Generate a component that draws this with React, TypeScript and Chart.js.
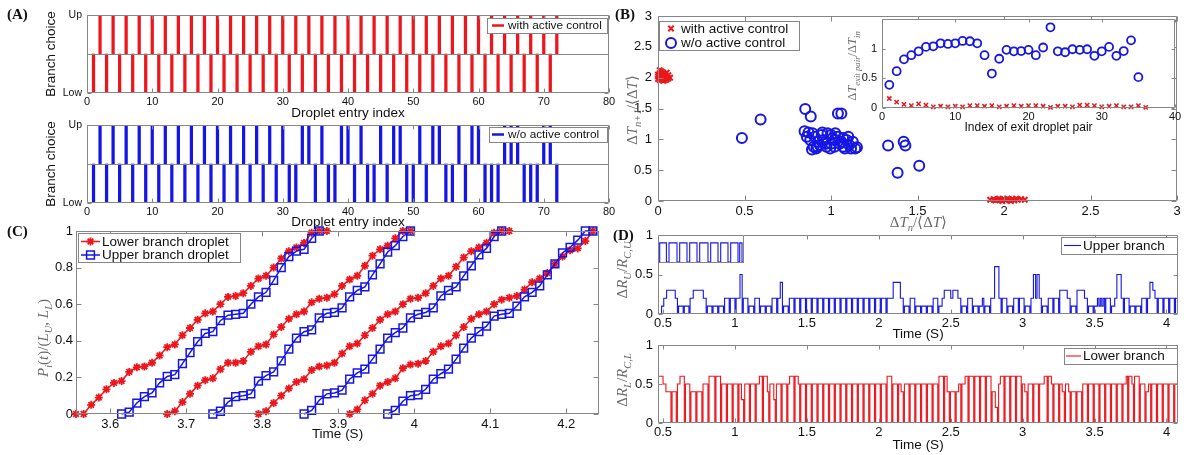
import React, { useEffect, useRef } from 'react';
import { Chart, registerables } from 'chart.js';

Chart.register(...registerables);

const W = 1184;
const H = 455;
const RED = 'rgb(236,22,28)';
const BLUE = 'rgb(22,22,228)';
const FRAME = '#868686';
const TEXT = '#111111';
const MATH = '#6a6a6a';
const SANS = '"Liberation Sans", Arial, Helvetica, sans-serif';
const SERIF = '"Liberation Serif", "Times New Roman", serif';

// ---------------- Panel A data ----------------
const A_X_TICKS = [0, 10, 20, 30, 40, 50, 60, 70, 80];
const A_X_LABELS = ['0', '10', '20', '30', '40', '50', '60', '70', '80'];
const BRANCH_TICKS = [0, 1];
const BRANCH_LABELS = ['Low', 'Up'];
const BRANCH_LOW = 0;
const BRANCH_MID = 0.5;
const BRANCH_UP = 1;
const ACTIVE_UP = [2, 4, 6, 8, 10, 12, 14, 16, 18, 20, 22, 24, 26, 28, 30, 32, 34, 36, 38, 40, 42, 44, 46, 48, 50, 52, 54, 56, 58, 60, 62, 64, 66, 68, 70, 72];
const ACTIVE_LOW = [1, 3, 5, 7, 9, 11, 13, 15, 17, 19, 21, 23, 25, 27, 29, 31, 33, 35, 37, 39, 41, 43, 45, 47, 49, 51, 53, 55, 57, 59, 61, 63, 65, 67, 69, 71];
const PASSIVE_UP = [2, 4, 6, 8, 10, 12, 14, 16, 18, 20, 22, 24, 26, 28, 30, 33, 34, 36, 39, 40, 42, 45, 47, 48, 51, 53, 54, 57, 59, 60, 64, 65, 66, 70, 71];
const PASSIVE_LOW = [1, 3, 5, 7, 9, 11, 13, 15, 17, 19, 21, 23, 25, 27, 29, 31, 32, 35, 37, 38, 41, 43, 44, 46, 49, 50, 52, 55, 56, 58, 61, 62, 63, 67, 68, 69, 72];

// ---------------- Panel B data ----------------
const B_TICKS = [0, 0.5, 1, 1.5, 2, 2.5, 3];
const B_LABELS = ['0', '0.5', '1', '1.5', '2', '2.5', '3'];
const B_ACTIVE_X = [0.01, 0.02, 0.03, 0.0, 0.02, 0.04, 0.01, 0.03, 0.05, 0.02, 0.04, 0.0, 0.06, 0.03, 0.05, 0.01, 0.02, 0.04, 0.03, 0.06, 0.0, 0.05, 0.02, 0.07, 0.01,
  1.92, 1.94, 1.95, 1.97, 1.98, 2.0, 2.01, 2.02, 2.03, 2.05, 2.06, 2.08, 2.1, 2.12, 1.99, 2.04, 1.96, 2.07];
const B_ACTIVE_Y = [2.12, 2.1, 2.08, 2.05, 2.03, 2.02, 2.0, 1.99, 2.0, 1.97, 1.96, 1.98, 2.04, 2.06, 1.97, 2.07, 1.99, 2.05, 1.95, 1.99, 2.02, 2.08, 2.01, 2.0, 1.96,
  0.02, 0.03, 0.01, 0.04, 0.02, 0.03, 0.01, 0.04, 0.02, 0.03, 0.01, 0.02, 0.03, 0.02, 0.0, 0.0, 0.02, 0.04];
const B_PASSIVE_X = [0.485, 0.593, 0.851, 0.883, 1.04, 1.06, 1.33, 1.42, 1.43, 1.385, 1.51,
  0.847, 0.87, 0.893, 0.86, 0.88, 0.9, 0.89, 0.915, 0.946, 0.957, 0.974, 1.0, 1.01, 1.02, 1.04, 1.06, 1.07, 1.09, 1.105, 1.116, 1.126, 1.14, 1.15,
  0.95, 0.98, 1.0, 1.025, 1.05, 1.08, 0.925, 0.935, 0.995, 1.02, 0.906, 0.923, 0.97, 1.1, 1.07];
const B_PASSIVE_Y = [1.02, 1.32, 1.49, 1.37, 1.42, 1.42, 0.9, 0.96, 0.9, 0.46, 0.57,
  1.13, 1.11, 1.1, 1.04, 0.99, 0.88, 0.835, 0.85, 1.07, 0.99, 0.88, 0.93, 1.02, 0.99, 1.04, 0.96, 1.02, 0.99, 0.91, 0.85, 0.96, 0.85, 0.87,
  1.11, 1.1, 1.07, 1.1, 0.93, 0.85, 0.96, 0.91, 0.85, 0.88, 1.04, 0.88, 0.93, 1.04, 0.88];

// Inset of panel B
const INSET_X_TICKS = [0, 10, 20, 30, 40];
const INSET_X_LABELS = ['0', '10', '20', '30', '40'];
const INSET_Y_TICKS = [0, 0.5, 1];
const INSET_Y_LABELS = ['0', '0.5', '1'];
const INSET_PASSIVE = [0.39, 0.62, 0.82, 0.89, 0.955, 1.03, 1.04, 1.09, 1.08, 1.09, 1.13, 1.125, 1.09, 0.89, 0.58, 0.83, 0.98, 0.955, 0.96, 0.98, 0.89, 1.02, 1.36, 0.955, 0.94, 0.99, 0.98, 0.99, 0.88, 0.955, 1.03, 0.88, 0.96, 1.14, 0.52];
const INSET_ACTIVE = [0.16, 0.1, 0.06, 0.04, 0.07, 0.05, 0.02, 0.03, 0.02, 0.03, 0.02, 0.04, 0.04, 0.03, 0.04, 0.02, 0.03, 0.04, 0.03, 0.04, 0.04, 0.03, 0.01, 0.03, 0.03, 0.02, 0.05, 0.05, 0.04, 0.02, 0.03, 0.04, 0.02, 0.02, 0.04, 0.01];

// ---------------- Panel C data ----------------
const C_X_TICKS = [3.6, 3.7, 3.8, 3.9, 4, 4.1, 4.2];
const C_X_LABELS = ['3.6', '3.7', '3.8', '3.9', '4', '4.1', '4.2'];
const C_Y_TICKS = [0, 0.2, 0.4, 0.6, 0.8, 1];
const C_Y_LABELS = ['0', '0.2', '0.4', '0.6', '0.8', '1'];
const LOWER1_T = [3.555, 3.565, 3.575, 3.585, 3.595, 3.605, 3.615, 3.625, 3.635, 3.645, 3.655, 3.665, 3.675, 3.685, 3.695, 3.705, 3.715, 3.725, 3.735, 3.745, 3.755, 3.765, 3.775, 3.785, 3.795, 3.805, 3.815, 3.825, 3.835, 3.845, 3.855, 3.865, 3.875, 3.885];
const LOWER1_P = [0, 0, 0.05, 0.09, 0.135, 0.17, 0.18, 0.23, 0.255, 0.26, 0.28, 0.32, 0.365, 0.38, 0.43, 0.47, 0.515, 0.55, 0.56, 0.6, 0.64, 0.645, 0.66, 0.7, 0.74, 0.755, 0.8, 0.85, 0.89, 0.91, 0.935, 0.99, 1, 1];
const UPPER1_T = [3.615, 3.625, 3.635, 3.645, 3.655, 3.665, 3.675, 3.685, 3.695, 3.705, 3.715, 3.725, 3.735, 3.745, 3.755, 3.765, 3.775, 3.785, 3.795, 3.805, 3.815, 3.825, 3.835, 3.845, 3.855, 3.865, 3.875];
const UPPER1_P = [0, 0.01, 0.06, 0.095, 0.115, 0.17, 0.205, 0.215, 0.275, 0.335, 0.395, 0.44, 0.45, 0.51, 0.54, 0.545, 0.55, 0.6, 0.64, 0.665, 0.73, 0.8, 0.86, 0.89, 0.9, 0.96, 1];
const LOWER2_T = [3.675, 3.685, 3.695, 3.705, 3.715, 3.725, 3.735, 3.745, 3.755, 3.765, 3.775, 3.785, 3.795, 3.805, 3.815, 3.825, 3.835, 3.845, 3.855, 3.865, 3.875, 3.885, 3.895, 3.905, 3.915, 3.925, 3.935, 3.945, 3.955, 3.965, 3.975, 3.985, 3.995];
const LOWER2_P = [0, 0.015, 0.065, 0.11, 0.155, 0.185, 0.195, 0.245, 0.28, 0.28, 0.29, 0.34, 0.37, 0.38, 0.435, 0.475, 0.52, 0.545, 0.56, 0.61, 0.63, 0.635, 0.655, 0.7, 0.735, 0.755, 0.81, 0.865, 0.9, 0.92, 0.96, 1, 1];
const UPPER2_T = [3.735, 3.745, 3.755, 3.765, 3.775, 3.785, 3.795, 3.805, 3.815, 3.825, 3.835, 3.845, 3.855, 3.865, 3.875, 3.885, 3.895, 3.905, 3.915, 3.925, 3.935, 3.945, 3.955, 3.965, 3.975, 3.985, 3.995];
const UPPER2_P = [0, 0.015, 0.065, 0.095, 0.1, 0.11, 0.18, 0.21, 0.23, 0.29, 0.355, 0.415, 0.45, 0.46, 0.525, 0.55, 0.555, 0.58, 0.64, 0.675, 0.695, 0.76, 0.82, 0.885, 0.92, 0.97, 1];
const LOWER3_T = [3.795, 3.805, 3.815, 3.825, 3.835, 3.845, 3.855, 3.865, 3.875, 3.885, 3.895, 3.905, 3.915, 3.925, 3.935, 3.945, 3.955, 3.965, 3.975, 3.985, 3.995, 4.005, 4.015, 4.025, 4.035, 4.045, 4.055, 4.065, 4.075, 4.085, 4.095, 4.105, 4.115, 4.125];
const LOWER3_P = [0, 0.015, 0.06, 0.1, 0.14, 0.175, 0.19, 0.24, 0.26, 0.265, 0.28, 0.33, 0.37, 0.385, 0.43, 0.47, 0.515, 0.545, 0.56, 0.6, 0.63, 0.635, 0.66, 0.7, 0.74, 0.755, 0.805, 0.855, 0.89, 0.91, 0.935, 0.99, 1, 1];
const UPPER3_T = [3.855, 3.865, 3.875, 3.885, 3.895, 3.905, 3.915, 3.925, 3.935, 3.945, 3.955, 3.965, 3.975, 3.985, 3.995, 4.005, 4.015, 4.025, 4.035, 4.045, 4.055, 4.065, 4.075, 4.085, 4.095, 4.105, 4.115];
const UPPER3_P = [0, 0.02, 0.075, 0.11, 0.115, 0.13, 0.19, 0.225, 0.245, 0.3, 0.355, 0.415, 0.445, 0.47, 0.525, 0.545, 0.555, 0.58, 0.645, 0.675, 0.695, 0.755, 0.81, 0.87, 0.905, 0.97, 1];
const LOWER4_T = [3.915, 3.925, 3.935, 3.945, 3.955, 3.965, 3.975, 3.985, 3.995, 4.005, 4.015, 4.025, 4.035, 4.045, 4.055, 4.065, 4.075, 4.085, 4.095, 4.105, 4.115, 4.125, 4.135, 4.145, 4.155, 4.165, 4.175, 4.185, 4.195, 4.205, 4.215, 4.225, 4.235];
const LOWER4_P = [0, 0.025, 0.075, 0.11, 0.155, 0.175, 0.195, 0.25, 0.27, 0.275, 0.29, 0.34, 0.37, 0.385, 0.43, 0.475, 0.52, 0.545, 0.56, 0.6, 0.625, 0.635, 0.645, 0.68, 0.72, 0.74, 0.77, 0.82, 0.86, 0.895, 0.905, 0.945, 1];
const UPPER4_T = [3.965, 3.975, 3.985, 3.995, 4.005, 4.015, 4.025, 4.035, 4.045, 4.055, 4.065, 4.075, 4.085, 4.095, 4.105, 4.115, 4.125, 4.135, 4.145, 4.155, 4.165, 4.175, 4.185, 4.195, 4.205, 4.215, 4.225, 4.235];
const UPPER4_P = [0, 0.02, 0.07, 0.1, 0.105, 0.135, 0.19, 0.22, 0.245, 0.3, 0.36, 0.415, 0.45, 0.48, 0.535, 0.545, 0.55, 0.59, 0.64, 0.665, 0.7, 0.76, 0.82, 0.88, 0.91, 0.95, 1, 1];

// ---------------- Panel D data ----------------
const D_X_TICKS = [0.5, 1, 1.5, 2, 2.5, 3, 3.5, 4];
const D_X_LABELS = ['0.5', '1', '1.5', '2', '2.5', '3', '3.5', '4'];
const D_Y_TICKS = [0, 0.5, 1];
const D_Y_LABELS = ['0', '0.5', '1'];
const UPPER_STEPS = [
  [0.465, 0], [0.49, 0.1], [0.505, 0.2], [0.525, 0.3], [0.585, 0.2], [0.6, 0], [0.608, 0.1], [0.64, 0], [0.648, 0.1], [0.68, 0], [0.688, 0.2], [0.71, 0.3], [0.78, 0.2], [0.8, 0], [0.808, 0.1], [0.84, 0], [0.848, 0.1], [0.88, 0], [0.888, 0.1], [0.92, 0], [0.928, 0.2], [0.96, 0], [0.968, 0.2], [1.0, 0], [1.008, 0.2], [1.035, 0.5], [1.05, 0], [1.058, 0.2], [1.09, 0], [1.098, 0.1], [1.13, 0], [1.138, 0.2], [1.17, 0], [1.178, 0.1], [1.21, 0], [1.218, 0.1], [1.25, 0], [1.258, 0.2], [1.29, 0], [1.298, 0.2], [1.315, 0.4], [1.33, 0], [1.338, 0.1], [1.37, 0], [1.378, 0.2], [1.41, 0], [1.418, 0.2], [1.45, 0], [1.458, 0.2], [1.49, 0], [1.498, 0.2], [1.53, 0], [1.538, 0.2], [1.57, 0], [1.578, 0.2], [1.61, 0], [1.618, 0.2], [1.65, 0], [1.658, 0.2], [1.69, 0], [1.698, 0.2], [1.73, 0], [1.738, 0.2], [1.77, 0], [1.778, 0.2], [1.81, 0], [1.818, 0.2], [1.85, 0], [1.858, 0.2], [1.89, 0], [1.898, 0.2], [1.93, 0], [1.938, 0.2], [1.97, 0], [1.978, 0.2], [2.01, 0], [2.018, 0.2], [2.05, 0], [2.058, 0.2], [2.1, 0.4], [2.15, 0.2], [2.17, 0], [2.178, 0.1], [2.21, 0], [2.218, 0.2], [2.25, 0], [2.258, 0.1], [2.29, 0], [2.298, 0.1], [2.33, 0], [2.338, 0.1], [2.37, 0], [2.378, 0.2], [2.41, 0], [2.418, 0.1], [2.44, 0.2], [2.455, 0.3], [2.5, 0.2], [2.515, 0.3], [2.55, 0.2], [2.57, 0], [2.578, 0.1], [2.61, 0], [2.618, 0.2], [2.65, 0], [2.658, 0.1], [2.69, 0], [2.698, 0.1], [2.72, 0.2], [2.73, 0], [2.738, 0.1], [2.77, 0], [2.778, 0.2], [2.805, 0.6], [2.835, 0.2], [2.85, 0], [2.858, 0.2], [2.89, 0], [2.898, 0.1], [2.93, 0], [2.938, 0.2], [2.97, 0], [2.978, 0.2], [3.01, 0], [3.018, 0.1], [3.05, 0], [3.058, 0.2], [3.075, 0.5], [3.09, 0.2], [3.1, 0.5], [3.115, 0.2], [3.13, 0], [3.138, 0.1], [3.17, 0], [3.178, 0.2], [3.21, 0], [3.218, 0.2], [3.25, 0], [3.258, 0.3], [3.31, 0.2], [3.33, 0], [3.338, 0.1], [3.37, 0], [3.378, 0.3], [3.43, 0.2], [3.45, 0], [3.458, 0.1], [3.49, 0], [3.498, 0.1], [3.52, 0.2], [3.53, 0.1], [3.54, 0.2], [3.55, 0.1], [3.56, 0.2], [3.57, 0], [3.578, 0.2], [3.61, 0], [3.618, 0.1], [3.64, 0.2], [3.655, 0.5], [3.685, 0.2], [3.7, 0], [3.708, 0.2], [3.74, 0], [3.748, 0.1], [3.78, 0], [3.788, 0.1], [3.82, 0], [3.828, 0.2], [3.86, 0], [3.868, 0.2], [3.885, 0.4], [3.905, 0.3], [3.92, 0.2], [3.935, 0], [3.943, 0.2], [3.975, 0], [3.983, 0.2], [4.015, 0], [4.023, 0.2], [4.055, 0], [4.063, 0.2], [4.08, 0.2],
];
const LOWER_STEPS = [
  [0.465, 0.6], [0.5, 0.5], [0.52, 0.4], [0.555, 0], [0.563, 0.4], [0.592, 0], [0.6, 0.5], [0.618, 0.6], [0.648, 0], [0.656, 0.5], [0.686, 0], [0.694, 0.4], [0.728, 0], [0.736, 0.4], [0.77, 0], [0.778, 0.5], [0.812, 0], [0.82, 0.6], [0.86, 0], [0.868, 0.6], [0.9, 0], [0.908, 0.5], [0.94, 0], [0.948, 0.5], [0.98, 0], [0.988, 0.5], [1.02, 0], [1.028, 0.5], [1.045, 0.3], [1.06, 0], [1.068, 0.5], [1.1, 0], [1.108, 0.5], [1.14, 0], [1.148, 0.5], [1.17, 0.6], [1.19, 0], [1.198, 0.6], [1.225, 0.4], [1.235, 0], [1.243, 0.5], [1.27, 0.3], [1.28, 0], [1.288, 0.5], [1.32, 0], [1.328, 0.5], [1.36, 0], [1.368, 0.5], [1.38, 0.6], [1.41, 0], [1.418, 0.6], [1.44, 0.5], [1.45, 0], [1.458, 0.5], [1.49, 0], [1.498, 0.5], [1.53, 0], [1.538, 0.5], [1.57, 0], [1.578, 0.5], [1.61, 0], [1.618, 0.5], [1.65, 0], [1.658, 0.5], [1.69, 0], [1.698, 0.5], [1.73, 0], [1.738, 0.5], [1.77, 0], [1.778, 0.5], [1.81, 0], [1.818, 0.5], [1.85, 0], [1.858, 0.5], [1.89, 0], [1.898, 0.5], [1.93, 0], [1.938, 0.5], [1.97, 0], [1.978, 0.5], [2.01, 0], [2.018, 0.5], [2.05, 0], [2.058, 0.6], [2.09, 0], [2.098, 0.5], [2.13, 0], [2.138, 0.5], [2.155, 0.4], [2.17, 0], [2.178, 0.5], [2.21, 0], [2.218, 0.5], [2.25, 0], [2.258, 0.5], [2.29, 0], [2.298, 0.5], [2.33, 0], [2.338, 0.5], [2.37, 0], [2.378, 0.5], [2.41, 0], [2.418, 0.6], [2.45, 0], [2.458, 0.6], [2.475, 0.4], [2.49, 0], [2.498, 0.4], [2.53, 0], [2.538, 0.4], [2.555, 0.5], [2.57, 0], [2.578, 0.5], [2.6, 0.6], [2.62, 0], [2.628, 0.6], [2.66, 0], [2.668, 0.6], [2.7, 0], [2.708, 0.6], [2.74, 0], [2.748, 0.6], [2.78, 0], [2.788, 0.4], [2.81, 0.2], [2.825, 0], [2.833, 0.5], [2.845, 0.6], [2.87, 0], [2.878, 0.6], [2.91, 0], [2.918, 0.6], [2.95, 0], [2.958, 0.6], [2.99, 0], [2.998, 0.5], [3.015, 0.4], [3.03, 0], [3.038, 0.5], [3.07, 0], [3.078, 0.5], [3.11, 0], [3.118, 0.5], [3.15, 0.6], [3.17, 0], [3.178, 0.6], [3.2, 0.5], [3.21, 0], [3.218, 0.5], [3.25, 0], [3.258, 0.5], [3.275, 0.4], [3.29, 0], [3.298, 0.5], [3.32, 0.4], [3.33, 0], [3.338, 0.4], [3.37, 0], [3.378, 0.4], [3.41, 0], [3.418, 0.5], [3.45, 0], [3.458, 0.5], [3.49, 0], [3.498, 0.5], [3.53, 0], [3.538, 0.5], [3.57, 0], [3.578, 0.5], [3.61, 0], [3.618, 0.5], [3.65, 0], [3.658, 0.5], [3.69, 0], [3.698, 0.5], [3.72, 0.6], [3.73, 0], [3.738, 0.6], [3.76, 0.5], [3.77, 0], [3.778, 0.6], [3.81, 0], [3.818, 0.5], [3.85, 0], [3.858, 0.4], [3.875, 0.5], [3.89, 0], [3.898, 0.5], [3.93, 0], [3.938, 0.5], [3.97, 0], [3.978, 0.5], [4.01, 0], [4.018, 0.5], [4.05, 0], [4.058, 0.5], [4.08, 0.5],
];
// small zoom inset in panel D (its own units)
const DI_T = [0, 1.7, 8.4, 11, 19, 21.7, 29, 31.7, 39, 41.7, 50, 52.7, 60, 62.7, 70, 72.7, 80, 81.7, 84, 86];
const DI_V = [0.03, 0.72, 0.03, 0.72, 0.03, 0.72, 0.03, 0.72, 0.03, 0.72, 0.03, 0.72, 0.03, 0.72, 0.03, 0.72, 0.03, 0.72, 0.03, 0.03];

// ---------------- layout (page pixels) ----------------
type Rect = { l: number; t: number; r: number; b: number };
const PA1: Rect = { l: 87, t: 15, r: 609, b: 93 };
const PA2: Rect = { l: 87, t: 125, r: 609, b: 203 };
const PB: Rect = { l: 658, t: 16, r: 1179, b: 201 };
const PBI: Rect = { l: 882, t: 19, r: 1175, b: 108 };
const PC: Rect = { l: 76, t: 231, r: 599, b: 414 };
const PD1: Rect = { l: 658, t: 235, r: 1178, b: 314 };
const PDI: Rect = { l: 658, t: 235, r: 744, b: 263 };
const PD2: Rect = { l: 658, t: 345, r: 1178, b: 423 };

type Seg = { t: string; sub?: boolean; it?: boolean };
type TextSpec = { x: number; y: number; rot?: boolean; segs: Seg[]; size: number; family: string; color: string };
type Row = { y: number; label: string; color: string; tx: number; line?: number[]; lw?: number; marker?: string; mx?: number; mr?: number; mlw?: number };
type LegendSpec = { box: number[]; size: number; rows: Row[] };
type DecorSpec = { bg?: boolean; tick: number; hLines?: number[]; legend?: LegendSpec; texts?: TextSpec[] };

function drawRich(ctx: CanvasRenderingContext2D, s: TextSpec) {
  ctx.save();
  ctx.translate(s.x, s.y);
  if (s.rot) ctx.rotate(-Math.PI / 2);
  const fontOf = (g: Seg) => `${g.it ? 'italic ' : ''}${g.sub ? s.size * 0.7 : s.size}px ${s.family}`;
  let total = 0;
  const widths = s.segs.map((g) => {
    ctx.font = fontOf(g);
    const w = ctx.measureText(g.t).width;
    total += w;
    return w;
  });
  let x = -total / 2;
  ctx.fillStyle = s.color;
  ctx.textBaseline = 'alphabetic';
  ctx.textAlign = 'left';
  const base = s.size * 0.35;
  s.segs.forEach((g, i) => {
    ctx.font = fontOf(g);
    ctx.fillText(g.t, x, base + (g.sub ? s.size * 0.28 : 0));
    x += widths[i];
  });
  ctx.restore();
}

function drawMarker(ctx: CanvasRenderingContext2D, style: string, x: number, y: number, r: number, color: string, lw: number) {
  ctx.save();
  ctx.strokeStyle = color;
  ctx.lineWidth = lw;
  ctx.beginPath();
  const d = r * Math.SQRT1_2;
  if (style === 'circle') {
    ctx.arc(x, y, r, 0, Math.PI * 2);
  } else if (style === 'crossRot') {
    ctx.moveTo(x - d, y - d); ctx.lineTo(x + d, y + d);
    ctx.moveTo(x - d, y + d); ctx.lineTo(x + d, y - d);
  } else if (style === 'star') {
    ctx.moveTo(x - r, y); ctx.lineTo(x + r, y);
    ctx.moveTo(x, y - r); ctx.lineTo(x, y + r);
    ctx.moveTo(x - d, y - d); ctx.lineTo(x + d, y + d);
    ctx.moveTo(x - d, y + d); ctx.lineTo(x + d, y - d);
  } else if (style === 'rect') {
    ctx.rect(x - d, y - d, 2 * d, 2 * d);
  }
  ctx.stroke();
  ctx.restore();
}

function decor(spec: DecorSpec) {
  return {
    id: 'decor',
    beforeDraw(chart: any) {
      if (!spec.bg) return;
      const { ctx, chartArea: a } = chart;
      ctx.save();
      ctx.fillStyle = '#ffffff';
      ctx.fillRect(a.left, a.top, a.right - a.left, a.bottom - a.top);
      ctx.restore();
    },
    afterDraw(chart: any) {
      const { ctx, chartArea: a, scales } = chart;
      ctx.save();
      ctx.strokeStyle = FRAME;
      ctx.lineWidth = 1;
      const L = a.left + 0.5, R = a.right - 0.5, T = a.top + 0.5, B = a.bottom - 0.5;
      ctx.beginPath();
      (spec.hLines || []).forEach((v) => {
        const y = Math.round(scales.y.getPixelForValue(v)) + 0.5;
        ctx.moveTo(L, y); ctx.lineTo(R, y);
      });
      if (spec.tick > 0) {
        scales.x.ticks.forEach((t: any) => {
          const x = Math.round(scales.x.getPixelForValue(t.value)) + 0.5;
          ctx.moveTo(x, B); ctx.lineTo(x, B - spec.tick);
          ctx.moveTo(x, T); ctx.lineTo(x, T + spec.tick);
        });
        scales.y.ticks.forEach((t: any) => {
          const y = Math.round(scales.y.getPixelForValue(t.value)) + 0.5;
          ctx.moveTo(L, y); ctx.lineTo(L + spec.tick, y);
          ctx.moveTo(R, y); ctx.lineTo(R - spec.tick, y);
        });
      }
      ctx.rect(L, T, R - L, B - T);
      ctx.stroke();
      const lg = spec.legend;
      if (lg) {
        const [x, y, w, h] = lg.box;
        ctx.fillStyle = '#ffffff';
        ctx.fillRect(x, y, w, h);
        ctx.strokeStyle = FRAME;
        ctx.lineWidth = 1;
        ctx.strokeRect(x + 0.5, y + 0.5, w, h);
        lg.rows.forEach((r) => {
          if (r.line) {
            ctx.strokeStyle = r.color;
            ctx.lineWidth = r.lw || 1;
            ctx.beginPath();
            ctx.moveTo(r.line[0], r.y);
            ctx.lineTo(r.line[1], r.y);
            ctx.stroke();
          }
          if (r.marker) drawMarker(ctx, r.marker, r.mx as number, r.y, r.mr || 4, r.color, r.mlw || 1.5);
          ctx.fillStyle = TEXT;
          ctx.font = `${lg.size}px ${SANS}`;
          ctx.textBaseline = 'middle';
          ctx.textAlign = 'left';
          ctx.fillText(r.label, r.tx, r.y + 0.5);
        });
      }
      (spec.texts || []).forEach((s) => drawRich(ctx, s));
      ctx.restore();
    },
  };
}

function labelFor(ticks: number[], labels: string[], v: number) {
  const i = ticks.findIndex((t) => Math.abs(t - v) < 1e-9);
  return i >= 0 ? labels[i] : '';
}

function xAxis(p: Rect, min: number, max: number, ticks: number[], labels: string[], size: number, pad: number) {
  return {
    type: 'linear', position: 'bottom', min, max, offset: false,
    grid: { display: false, drawTicks: false }, border: { display: false },
    ticks: { autoSkip: false, maxRotation: 0, minRotation: 0, padding: pad, color: TEXT, includeBounds: false,
      font: { family: SANS, size }, callback: (v: number) => labelFor(ticks, labels, v) },
    afterBuildTicks: (s: any) => { s.ticks = ticks.map((v) => ({ value: v })); },
    afterFit: (s: any) => { s.height = H - p.b; s.paddingLeft = 0; s.paddingRight = 0; },
  };
}

function yAxis(p: Rect, min: number, max: number, ticks: number[], labels: string[], size: number, pad: number) {
  return {
    type: 'linear', position: 'left', min, max,
    grid: { display: false, drawTicks: false }, border: { display: false },
    ticks: { autoSkip: false, padding: pad, color: TEXT, includeBounds: false,
      font: { family: SANS, size }, callback: (v: number) => labelFor(ticks, labels, v) },
    afterBuildTicks: (s: any) => { s.ticks = ticks.map((v) => ({ value: v })); },
    afterFit: (s: any) => { s.width = p.l; s.paddingTop = 0; s.paddingBottom = 0; },
  };
}

function baseOptions(p: Rect, scales: any, hiddenAxes = false) {
  return {
    responsive: false,
    maintainAspectRatio: false,
    animation: false,
    devicePixelRatio: 1,
    events: [],
    layout: { padding: hiddenAxes
      ? { left: p.l, top: p.t, right: W - p.r, bottom: H - p.b }
      : { left: 0, top: p.t, right: W - p.r, bottom: 0 } },
    plugins: { legend: { display: false }, tooltip: { enabled: false }, title: { display: false } },
    scales,
  };
}

const sans = (x: number, y: number, t: string, size: number, rot = false): TextSpec => ({ x, y, rot, segs: [{ t }], size, family: SANS, color: TEXT });
const math = (x: number, y: number, segs: Seg[], size: number, rot = false): TextSpec => ({ x, y, rot, segs, size, family: SERIF, color: MATH });

// ---------------- chart builders ----------------
function branchChart(p: Rect, up: number[], low: number[], color: string, label: string, legend: LegendSpec, titleY: number) {
  const mid = (p.t + p.b) / 2;
  return {
    type: 'bar',
    data: {
      datasets: [
        { label, data: up.map((i) => ({ x: i, y: [BRANCH_MID, BRANCH_UP] })), backgroundColor: color, barThickness: 2.6, grouped: false, borderWidth: 0 },
        { label, data: low.map((i) => ({ x: i, y: [BRANCH_LOW, BRANCH_MID] })), backgroundColor: color, barThickness: 2.6, grouped: false, borderWidth: 0 },
      ],
    },
    options: baseOptions(p, {
      x: xAxis(p, 0, 80, A_X_TICKS, A_X_LABELS, 11, 2),
      y: yAxis(p, 0, 1, BRANCH_TICKS, BRANCH_LABELS, 10.5, 5),
    }),
    plugins: [decor({
      tick: 4, hLines: [BRANCH_MID], legend,
      texts: [sans((p.l + p.r) / 2, titleY, 'Droplet entry index', 13.5), sans(50, mid, 'Branch choice', 13.5, true)],
    })],
  };
}

const buildA1 = () => branchChart(PA1, ACTIVE_UP, ACTIVE_LOW, RED, 'with active control',
  { box: [487, 18, 120, 15], size: 11.8, rows: [{ y: 25.5, label: 'with active control', color: RED, line: [492, 504], lw: 2.5, tx: 508 }] }, 112);
const buildA2 = () => branchChart(PA2, PASSIVE_UP, PASSIVE_LOW, BLUE, 'w/o active control',
  { box: [489, 127, 118, 15], size: 11.8, rows: [{ y: 134.5, label: 'w/o active control', color: BLUE, line: [492, 504], lw: 2.5, tx: 508 }] }, 221);

const buildB = () => ({
  type: 'scatter',
  data: {
    datasets: [
      { label: 'with active control', data: B_ACTIVE_X.map((x, i) => ({ x, y: B_ACTIVE_Y[i] })), pointStyle: 'crossRot', pointRadius: 3.8, pointBorderWidth: 2, pointBorderColor: RED, pointBackgroundColor: RED, showLine: false, clip: false },
      { label: 'w/o active control', data: B_PASSIVE_X.map((x, i) => ({ x, y: B_PASSIVE_Y[i] })), pointStyle: 'circle', pointRadius: 5, pointBorderWidth: 2, pointBorderColor: BLUE, pointBackgroundColor: 'rgba(0,0,0,0)', showLine: false, clip: false },
    ],
  },
  options: baseOptions(PB, { x: xAxis(PB, 0, 3, B_TICKS, B_LABELS, 13, 3), y: yAxis(PB, 0, 3, B_TICKS, B_LABELS, 13, 6) }),
  plugins: [decor({
    tick: 5,
    legend: { box: [659, 21, 140, 29], size: 13.5, rows: [
      { y: 28.5, label: 'with active control', color: RED, marker: 'crossRot', mx: 671, mr: 3.8, mlw: 2, tx: 681 },
      { y: 43, label: 'w/o active control', color: BLUE, marker: 'circle', mx: 671, mr: 5, mlw: 2, tx: 681 },
    ] },
    texts: [
      math(632, 110, [{ t: 'Δ' }, { t: 'T', it: true }, { t: 'n+1', sub: true, it: true }, { t: '/⟨Δ' }, { t: 'T', it: true }, { t: '⟩' }], 15, true),
      math((PB.l + PB.r) / 2, 222, [{ t: 'Δ' }, { t: 'T', it: true }, { t: 'n', sub: true, it: true }, { t: '/⟨Δ' }, { t: 'T', it: true }, { t: '⟩' }], 15),
    ],
  })],
});

const buildBI = () => ({
  type: 'scatter',
  data: {
    datasets: [
      { label: 'w/o active control', data: INSET_PASSIVE.map((v, i) => ({ x: i + 1, y: v })), pointStyle: 'circle', pointRadius: 4, pointBorderWidth: 1.8, pointBorderColor: BLUE, pointBackgroundColor: 'rgba(0,0,0,0)', showLine: false, clip: false },
      { label: 'with active control', data: INSET_ACTIVE.map((v, i) => ({ x: i + 1, y: v })), pointStyle: 'crossRot', pointRadius: 3, pointBorderWidth: 1.5, pointBorderColor: RED, pointBackgroundColor: RED, showLine: false, clip: false },
    ],
  },
  options: baseOptions(PBI, { x: xAxis(PBI, 0, 40, INSET_X_TICKS, INSET_X_LABELS, 11, 2), y: yAxis(PBI, 0, 1.5, INSET_Y_TICKS, INSET_Y_LABELS, 11, 5) }),
  plugins: [decor({
    bg: true, tick: 3,
    texts: [
      sans((PBI.l + PBI.r) / 2, 127, 'Index of exit droplet pair', 12),
      math(852, 66, [{ t: 'Δ' }, { t: 'T', it: true }, { t: 'exit pair', sub: true, it: true }, { t: '/Δ' }, { t: 'T', it: true }, { t: 'in', sub: true, it: true }], 12.5, true),
    ],
  })],
});

const curve = (t: number[], p: number[]) => t.map((x, i) => ({ x, y: p[i] }));
const upperStyle = { borderColor: BLUE, borderWidth: 1.5, pointStyle: 'rect', pointRadius: 5.5, pointBorderWidth: 1.5, pointBorderColor: BLUE, pointBackgroundColor: 'rgba(0,0,0,0)', tension: 0, clip: false };
const lowerStyle = { borderColor: RED, borderWidth: 1.5, pointStyle: 'star', pointRadius: 4, pointBorderWidth: 1.8, pointBorderColor: RED, pointBackgroundColor: RED, tension: 0, clip: false };

const buildC = () => ({
  type: 'line',
  data: {
    datasets: [
      { label: 'Upper branch droplet', data: curve(UPPER1_T, UPPER1_P), ...upperStyle },
      { label: 'Upper branch droplet', data: curve(UPPER2_T, UPPER2_P), ...upperStyle },
      { label: 'Upper branch droplet', data: curve(UPPER3_T, UPPER3_P), ...upperStyle },
      { label: 'Upper branch droplet', data: curve(UPPER4_T, UPPER4_P), ...upperStyle },
      { label: 'Lower branch droplet', data: curve(LOWER1_T, LOWER1_P), ...lowerStyle },
      { label: 'Lower branch droplet', data: curve(LOWER2_T, LOWER2_P), ...lowerStyle },
      { label: 'Lower branch droplet', data: curve(LOWER3_T, LOWER3_P), ...lowerStyle },
      { label: 'Lower branch droplet', data: curve(LOWER4_T, LOWER4_P), ...lowerStyle },
    ],
  },
  options: baseOptions(PC, { x: xAxis(PC, 3.555, 4.243, C_X_TICKS, C_X_LABELS, 13, 3), y: yAxis(PC, 0, 1, C_Y_TICKS, C_Y_LABELS, 13, 3) }),
  plugins: [decor({
    tick: 5,
    legend: { box: [78, 233, 162, 29], size: 13.5, rows: [
      { y: 241.5, label: 'Lower branch droplet', color: RED, line: [81, 100], lw: 1.5, marker: 'star', mx: 90.5, mr: 4, mlw: 1.8, tx: 102 },
      { y: 255, label: 'Upper branch droplet', color: BLUE, line: [81, 100], lw: 1.5, marker: 'rect', mx: 90.5, mr: 5.5, mlw: 1.5, tx: 102 },
    ] },
    texts: [
      math(43, 338, [{ t: 'P', it: true }, { t: 'i', sub: true, it: true }, { t: '(' }, { t: 't', it: true }, { t: ')/(' }, { t: 'L', it: true }, { t: 'U', sub: true, it: true }, { t: ', ' }, { t: 'L', it: true }, { t: 'L', sub: true, it: true }, { t: ')' }], 15, true),
      sans((PC.l + PC.r) / 2, 433, 'Time (S)', 13.5),
    ],
  })],
});

function resistanceChart(p: Rect, steps: number[][], color: string, label: string, legend: LegendSpec, ySegs: Seg[], titleX: number, titleY: number) {
  return {
    type: 'line',
    data: { datasets: [{ label, data: steps.map((s) => ({ x: s[0], y: s[1] })), stepped: true, borderColor: color, borderWidth: 1.1, pointRadius: 0, tension: 0 }] },
    options: baseOptions(p, { x: xAxis(p, 0.465, 4.08, D_X_TICKS, D_X_LABELS, 13, 2), y: yAxis(p, 0, 1, D_Y_TICKS, D_Y_LABELS, 13, 5) }),
    plugins: [decor({
      tick: 4, legend,
      texts: [math(622, titleX, ySegs, 15, true), sans((p.l + p.r) / 2, titleY, 'Time (S)', 13.5)],
    })],
  };
}

const buildD1 = () => resistanceChart(PD1, UPPER_STEPS, BLUE, 'Upper branch',
  { box: [1061, 237, 116, 17], size: 13.5, rows: [{ y: 245.5, label: 'Upper branch', color: BLUE, line: [1064, 1081], lw: 1.1, tx: 1083 }] },
  [{ t: 'Δ' }, { t: 'R', it: true }, { t: 'U', sub: true, it: true }, { t: '/' }, { t: 'R', it: true }, { t: 'C,U', sub: true, it: true }], 270, 333);
const buildD2 = () => resistanceChart(PD2, LOWER_STEPS, RED, 'Lower branch',
  { box: [1064, 348, 113, 16], size: 13.5, rows: [{ y: 356, label: 'Lower branch', color: RED, line: [1066, 1081], lw: 1.1, tx: 1083 }] },
  [{ t: 'Δ' }, { t: 'R', it: true }, { t: 'L', sub: true, it: true }, { t: '/' }, { t: 'R', it: true }, { t: 'C,L', sub: true, it: true }], 380, 444);

const buildDI = () => ({
  type: 'line',
  data: { datasets: [{ label: 'zoom', data: DI_T.map((x, i) => ({ x, y: DI_V[i] })), stepped: true, borderColor: BLUE, borderWidth: 1.1, pointRadius: 0 }] },
  options: baseOptions(PDI, {
    x: { type: 'linear', display: false, min: 0, max: 86 },
    y: { type: 'linear', display: false, min: 0, max: 1 },
  }, true),
  plugins: [decor({ bg: true, tick: 0 })],
});

function ChartLayer({ build }: { build: () => any }) {
  const ref = useRef<HTMLCanvasElement | null>(null);
  useEffect(() => {
    if (!ref.current) return undefined;
    const chart = new Chart(ref.current, build());
    return () => chart.destroy();
  }, [build]);
  return <canvas ref={ref} width={W} height={H} style={{ position: 'absolute', left: 0, top: 0, width: W, height: H }} />;
}

const panelLabel = (left: number, top: number): React.CSSProperties => ({
  position: 'absolute', left, top, font: `bold 15px ${SERIF}`, lineHeight: '15px', color: '#111', zIndex: 5,
});

export default function App() {
  return (
    <div style={{ position: 'fixed', left: 0, top: 0, width: W, height: H, background: '#ffffff', overflow: 'hidden' }}>
      <ChartLayer build={buildA1} />
      <ChartLayer build={buildA2} />
      <ChartLayer build={buildB} />
      <ChartLayer build={buildBI} />
      <ChartLayer build={buildC} />
      <ChartLayer build={buildD1} />
      <ChartLayer build={buildDI} />
      <ChartLayer build={buildD2} />
      <div style={panelLabel(7, 7)}>(A)</div>
      <div style={panelLabel(615, 7)}>(B)</div>
      <div style={panelLabel(7, 224)}>(C)</div>
      <div style={panelLabel(613, 228)}>(D)</div>
    </div>
  );
}
